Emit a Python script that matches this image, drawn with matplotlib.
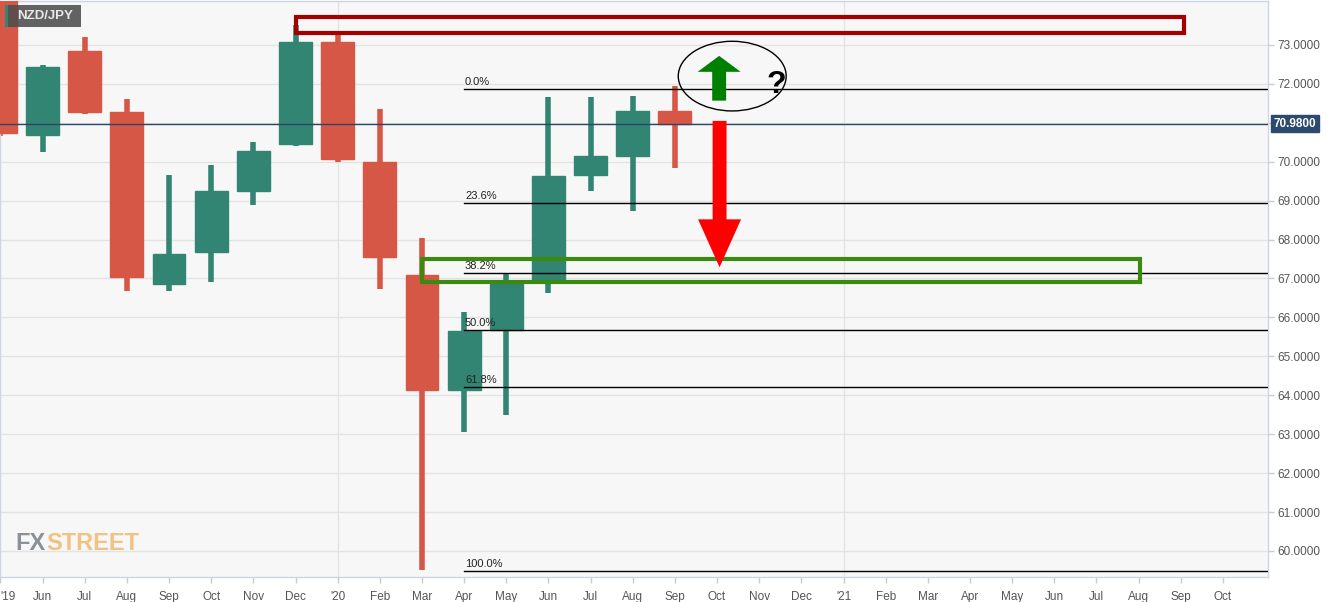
import matplotlib.pyplot as plt
from matplotlib.patches import Rectangle, Ellipse, FancyArrow

# monthly candles, May 2019 .. Sep 2020
opens = [74.45, 70.69, 72.85, 71.28, 66.85, 67.67, 69.26, 70.46, 73.08, 70.00, 67.08, 64.13, 65.67, 66.95, 69.67, 70.15, 71.31]
highs = [74.60, 72.49, 73.20, 71.62, 69.67, 69.92, 70.51, 73.51, 73.28, 71.36, 68.05, 66.15, 67.13, 71.67, 71.67, 71.69, 71.95]
lows = [70.67, 70.26, 71.23, 66.67, 66.67, 66.92, 68.90, 70.40, 70.00, 66.74, 59.51, 63.05, 63.49, 66.64, 69.26, 68.74, 69.85]
closes = [70.74, 72.44, 71.28, 67.05, 67.64, 69.26, 70.28, 73.08, 70.08, 67.54, 64.13, 65.64, 66.87, 69.64, 70.15, 71.31, 70.98]

month_labels = ["'19", "Jun", "Jul", "Aug", "Sep", "Oct", "Nov", "Dec",
                "'20", "Feb", "Mar", "Apr", "May", "Jun", "Jul", "Aug", "Sep", "Oct", "Nov", "Dec",
                "'21", "Feb", "Mar", "Apr", "May", "Jun", "Jul", "Aug", "Sep", "Oct"]
y_ticks = [60, 61, 62, 63, 64, 65, 66, 67, 68, 69, 70, 71, 72, 73]

fib_high = 71.86
fib_low = 59.49
fib_ratios = [0.0, 0.236, 0.382, 0.5, 0.618, 1.0]
fib_start = 11  # Apr 2020
last_price = 70.98

# zones (x from, x to, y low, y high)
resist_zone = (7, 28.07, 73.31, 73.72)
support_zone = (10, 27.04, 66.92, 67.49)

GREEN = '#338573'
RED = '#d65745'

plt.rcParams['font.family'] = ['Liberation Sans', 'DejaVu Sans']

fig = plt.figure(figsize=(13.44, 6.02), dpi=100)
ax = fig.add_axes([0.0, 25 / 602, 1268 / 1344, 576 / 602])
ax.set_facecolor('#f7f7f7')

ax.set_xlim(-0.01, 30.07)
ax.set_ylim(59.33, 74.13)

# grid
for v in y_ticks:
    ax.axhline(v, color='#e3e3e3', lw=1, zorder=0)
for m in [8, 20]:
    ax.axvline(m, color='#e3e3e3', lw=1, zorder=0)

# candles
bw = 0.78
for i in range(len(opens)):
    o, h, l, c = opens[i], highs[i], lows[i], closes[i]
    col = GREEN if c >= o else RED
    ax.plot([i, i], [l, h], color=col, lw=4, solid_capstyle='butt', zorder=2)
    bot = min(o, c)
    ht = max(abs(c - o), 0.05)
    ax.add_patch(Rectangle((i - bw / 2, bot), bw, ht, facecolor=col,
                           edgecolor=col, lw=1, zorder=3))

# last price line
ax.axhline(last_price, color='#2b4566', lw=1, zorder=4)

# fib retracement
rng = fib_high - fib_low
for r in fib_ratios:
    lvl = fib_high - r * rng
    ax.plot([fib_start, 30.07], [lvl, lvl], color='black', lw=1, zorder=4)
    ax.text(fib_start + 0.02, lvl + 0.05, '%.1f%%' % (r * 100), fontsize=8,
            color='#222222', va='bottom', ha='left', zorder=5)

# zones
x0, x1, y0, y1 = resist_zone
ax.add_patch(Rectangle((x0, y0), x1 - x0, y1 - y0, fill=False,
                       edgecolor='#a30000', lw=3, zorder=6))
x0, x1, y0, y1 = support_zone
ax.add_patch(Rectangle((x0, y0), x1 - x0, y1 - y0, fill=False,
                       edgecolor='#3a8a10', lw=3, zorder=6))

# question ellipse with arrows
ax.add_patch(Ellipse((17.36, 72.2), 2.56, 1.79, fill=False,
                     edgecolor='black', lw=1, zorder=7))
ax.add_patch(FancyArrow(17.05, 71.57, 0, 1.15, width=0.33, head_width=1.02,
                        head_length=0.41, length_includes_head=True,
                        color='#008000', lw=0, zorder=8))
ax.text(18.4, 71.98, '?', fontsize=23, fontweight='bold', ha='center',
        va='center', color='black', zorder=8)
ax.add_patch(FancyArrow(17.06, 71.05, 0, -3.76, width=0.33, head_width=1.02,
                        head_length=1.23, length_includes_head=True,
                        color='#ff0000', lw=0, zorder=8))

# axes styling
ax.yaxis.tick_right()
ax.set_yticks(y_ticks)
# 71 is hidden behind the last price tag
ax.set_yticklabels(['' if v == 71 else '%.4f' % v for v in y_ticks])
ax.set_xticks(range(len(month_labels)))
ax.set_xticklabels(month_labels)
ax.get_xticklabels()[0].set_horizontalalignment('left')
ax.tick_params(axis='both', colors='#c4cbd8', labelcolor='#555555',
               labelsize=8.5, length=4, width=1)
ax.tick_params(axis='x', pad=6)
ax.tick_params(axis='y', pad=3)
for side in ['top', 'left', 'right', 'bottom']:
    ax.spines[side].set_color('#cdd4e4')
    ax.spines[side].set_linewidth(1)

# last price label
ax.text(1.0045, last_price, '%.4f' % last_price, transform=ax.get_yaxis_transform(),
        fontsize=8.5, fontweight='bold', color='white', va='center', ha='left',
        bbox=dict(boxstyle='square,pad=0.2', facecolor='#2c4a6e', edgecolor='#2c4a6e'),
        zorder=10)

# symbol tag
fig.patches.append(Rectangle((5 / 1344, 1 - 27 / 602), 76 / 1344, 22 / 602,
                             transform=fig.transFigure, facecolor='#4d4d4d',
                             alpha=0.88, zorder=10))
fig.patches.append(Rectangle((5 / 1344, 1 - 27 / 602), 3 / 1344, 22 / 602,
                             transform=fig.transFigure, facecolor=GREEN, zorder=10))
fig.text(17 / 1344, 1 - 16 / 602, 'NZD/JPY', fontsize=9.5, fontweight='bold',
         color='#e8e8e8', va='center', ha='left', zorder=11)

# watermark
fx = fig.text(15 / 1344, 1 - 544 / 602, 'FX', fontsize=17, fontweight='bold',
              color='#8b9099', va='center', ha='left', zorder=1)
ax.annotate('STREET', xy=(1, 0.5), xycoords=fx, xytext=(1, 0),
            textcoords='offset points', fontsize=17, fontweight='bold',
            color='#f0c283', va='center', ha='left', zorder=1)

fig.savefig('out.png', dpi=100, facecolor='white')
